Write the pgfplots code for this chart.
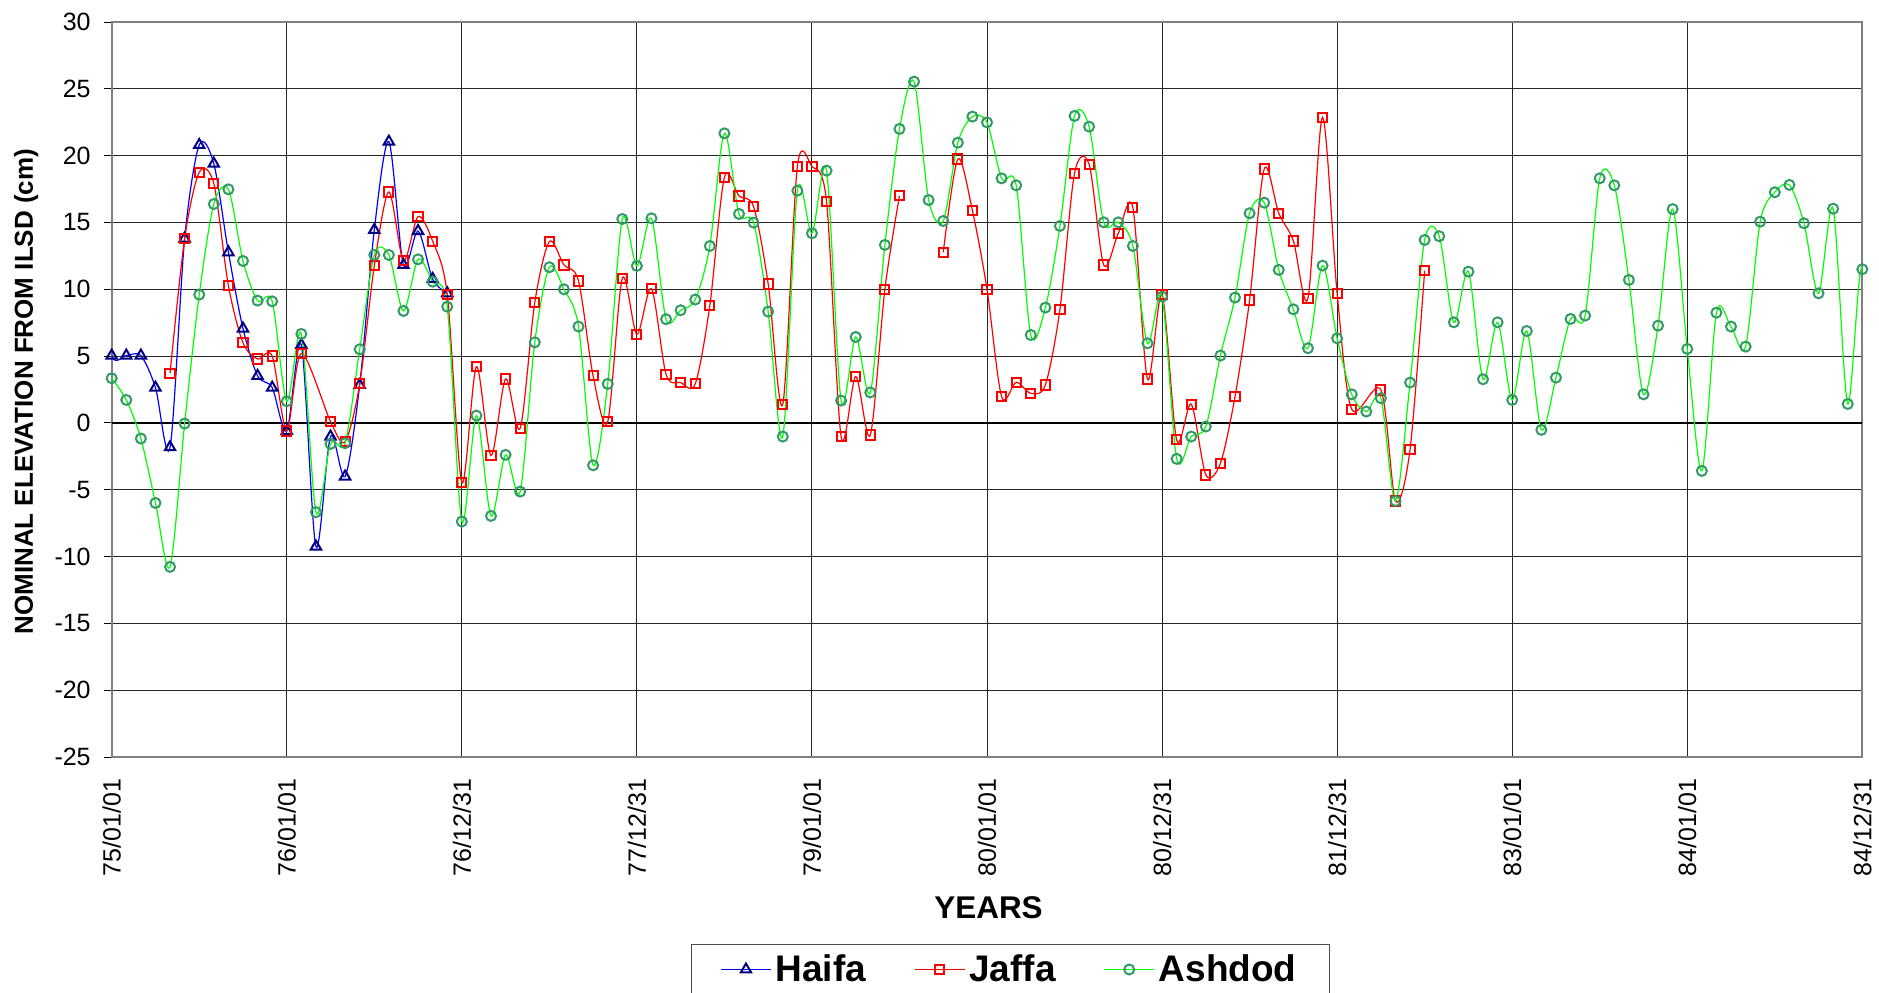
\documentclass[border=0pt]{standalone}
\usepackage{pgfplots}
\pgfplotsset{compat=1.18}
\usepackage{pgfplotstable}
\usepackage{fontspec}
\setmainfont{Liberation Sans}
\definecolor{haifaline}{RGB}{0,0,255}
\definecolor{haifamark}{RGB}{0,0,128}
\definecolor{jaffa}{RGB}{255,0,0}
\definecolor{ashline}{RGB}{0,255,0}
\definecolor{ashmark}{RGB}{51,153,102}

\pgfplotstableread{
m v
-1 11
0 5.04
1 5.04
2 5.04
3 2.64
4 -1.82
5 13.8
6 20.8
7 19.4
8 12.77
9 7.06
10 3.52
11 2.64
12 -0.6
13 5.84
14 -9.25
15 -1.02
16 -4.01
17 2.84
18 14.44
19 21.05
20 11.82
21 14.36
22 10.77
23 9.7
}\haifa

\pgfplotstableread{
m v
4 3.72
5 13.8
6 18.75
7 17.9
8 10.27
9 6.0
10 4.79
11 5.01
12 -0.6
13 5.2
15 0.1
16 -1.4
17 2.92
18 11.75
19 17.28
20 12.14
21 15.44
22 13.6
23 9.63
24 -4.46
25 4.21
26 -2.44
27 3.29
28 -0.4
29 9.0
30 13.57
31 11.82
32 10.62
33 3.52
34 0.1
35 10.82
36 6.63
37 10.05
38 3.64
39 3.02
40 2.92
41 8.78
42 18.38
43 16.98
44 16.18
45 10.4
46 1.4
47 19.18
48 19.18
49 16.58
50 -1.02
51 3.47
52 -0.9
53 10.0
54 17.0
55 nan
56 nan
57 12.77
58 19.75
59 15.89
60 10.0
61 1.97
62 3.04
63 2.22
64 2.84
65 8.5
66 18.68
67 19.35
68 11.82
69 14.19
70 16.11
71 3.29
72 9.63
73 -1.27
74 1.4
75 -3.89
76 -3.02
77 1.97
78 9.2
79 19.0
80 15.69
81 13.62
82 9.33
83 22.87
84 9.7
85 1.02
87 2.47
88 -5.84
89 -1.97
90 11.4
}\jaffa

\pgfplotstableread{
m v
0 3.34
1 1.72
2 -1.17
3 -5.99
4 -10.77
5 -0.05
6 9.6
7 16.38
8 17.48
9 12.12
10 9.15
11 9.1
12 1.62
13 6.66
14 -6.68
15 -1.57
16 -1.52
17 5.51
18 12.57
19 12.57
20 8.38
21 12.24
22 10.57
23 8.7
24 -7.38
25 0.55
26 -6.96
27 -2.39
28 -5.14
29 6.03
30 11.65
31 10.0
32 7.21
33 -3.17
34 2.92
35 15.26
36 11.75
37 15.31
38 7.76
39 8.43
40 9.23
41 13.24
42 21.67
43 15.64
44 14.99
45 8.33
46 -1.02
47 17.38
48 14.19
49 18.88
50 1.67
51 6.43
52 2.28
53 13.32
54 22.0
55 25.54
56 16.68
57 15.11
58 20.97
59 22.92
60 22.49
61 18.3
62 17.78
63 6.58
64 8.63
65 14.74
66 22.97
67 22.17
68 15.01
69 15.01
70 13.24
71 5.96
72 9.45
73 -2.69
74 -1.02
75 -0.27
76 5.04
77 9.38
78 15.69
79 16.48
80 11.45
81 8.5
82 5.59
83 11.77
84 6.33
85 2.14
86 0.85
87 1.85
88 -5.84
89 3.02
90 13.69
91 13.97
92 7.53
93 11.32
94 3.27
95 7.53
96 1.72
97 6.88
98 -0.52
99 3.39
100 7.78
101 8.03
102 18.3
103 17.78
104 10.7
105 2.14
106 7.28
107 16.0
108 5.54
109 -3.59
110 8.25
111 7.21
112 5.71
113 15.06
114 17.26
115 17.81
116 14.94
117 9.7
118 16.03
119 1.42
120 11.5
121 -8
}\ashdod

\begin{document}
\begin{tikzpicture}
\useasboundingbox (-55.85pt,-117.5pt) rectangle (883.65pt,378.5pt);
\begin{axis}[
  at={(0pt,0pt)}, anchor=south west,
  scale only axis, width=875.3pt, height=367.5pt,
  xmin=0, xmax=120, ymin=-25, ymax=30,
  xtick={0,12,...,120},
  xticklabels={75/01/01,76/01/01,76/12/31,77/12/31,79/01/01,80/01/01,80/12/31,81/12/31,83/01/01,84/01/01,84/12/31},
  ytick={-25,-20,...,30},
  /pgf/number format/assume math mode=true,
  grid=major,
  major grid style={black!85, line width=0.5pt},
  axis line style={black!50, line width=1.1pt},
  xtick style={draw=none},
  ytick style={black, line width=0.5pt},
  tick align=outside,
  ytick pos=left,
  major tick length=4pt,
  unbounded coords=jump,
  ticklabel style={font=\fontsize{12.5}{15}\selectfont},
  xticklabel style={yshift=-3.5pt, rotate=90, anchor=east},
  yticklabel style={xshift=-3pt},
  ylabel={NOMINAL ELEVATION FROM ILSD (cm)},
  every axis y label/.style={at={(axis description cs:-0.0489,0.497)}, rotate=90, anchor=center,
    font=\fontsize{13}{15}\selectfont\bfseries},
  xlabel={YEARS},
  every axis x label/.style={at={(axis description cs:0.5009,-0.2054)}, anchor=center,
    font=\fontsize{15.7}{18}\selectfont\bfseries},
  legend columns=3,
  legend image code/.code={\draw[mark repeat=2,mark phase=2,#1] plot coordinates {(0pt,0pt) (12.5pt,0pt) (25pt,0pt)};},
  legend style={at={(axis description cs:0.5134,-0.2544)}, anchor=north,
    draw=black!70, line width=0.6pt, font=\fontsize{18.5}{22}\selectfont\bfseries,
    inner xsep=14.5pt, inner ysep=3pt,
    /tikz/every even column/.append style={column sep=22pt}},
]
\addplot[black, line width=0.7pt, forget plot] coordinates {(0,0) (120,0)};
\addplot[haifaline, line width=0.6pt, smooth, mark=triangle, mark size=3pt,
  mark options={draw=haifamark, fill=white, line width=1pt, solid}] table[x=m,y=v] {\haifa};
\addlegendentry{Haifa}
\addplot[jaffa, line width=0.6pt, smooth, mark=square, mark size=2.3pt,
  mark options={draw=jaffa, fill=white, line width=1pt, solid}] table[x=m,y=v] {\jaffa};
\addlegendentry{Jaffa}
\addplot[ashline, line width=0.6pt, smooth, mark=o, mark size=2.5pt,
  mark options={draw=ashmark, fill=white, line width=1pt, solid}] table[x=m,y=v] {\ashdod};
\addlegendentry{Ashdod}
\end{axis}
\end{tikzpicture}
\end{document}
